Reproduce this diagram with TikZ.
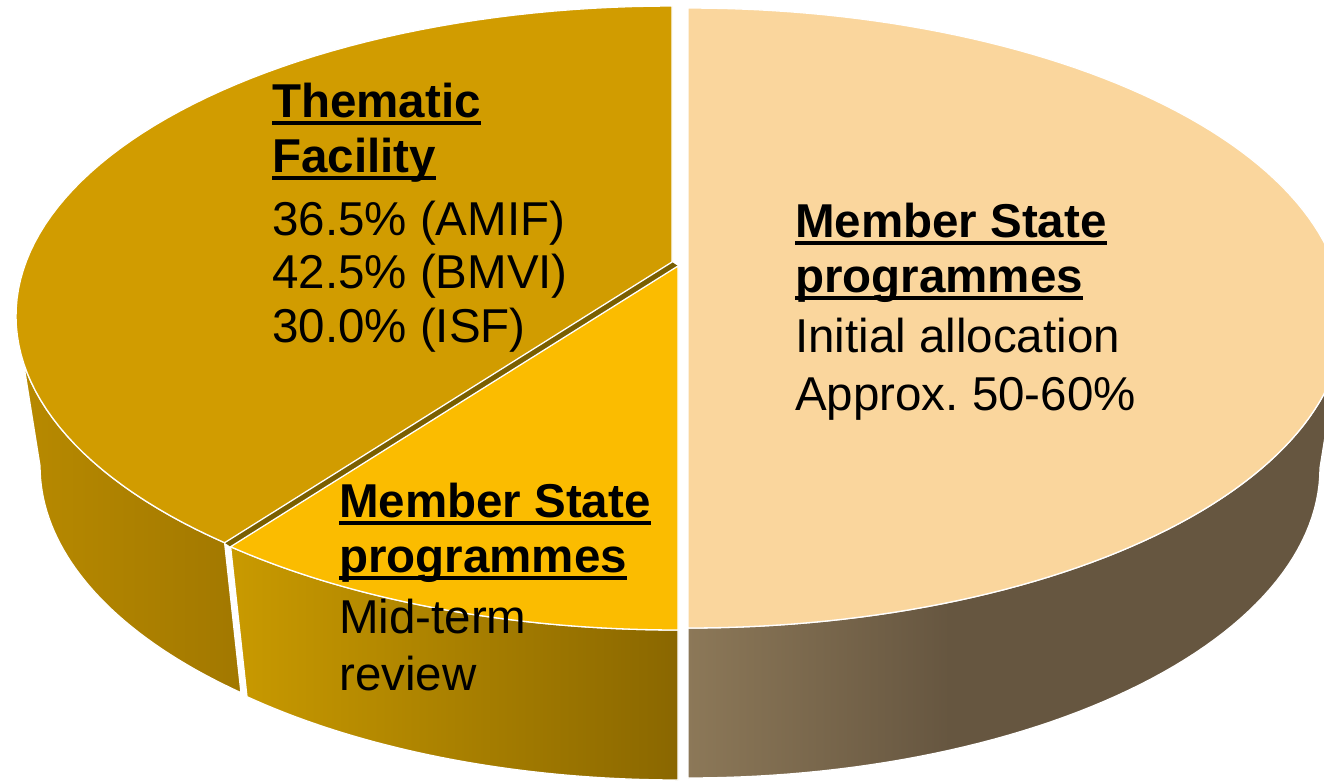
\documentclass[tikz,border=0pt]{standalone}
\usepackage{fontspec}
\setmainfont{Liberation Sans}
\frenchspacing
\definecolor{thtop}{HTML}{D19C00}
\definecolor{thsideA}{HTML}{B88A00}
\definecolor{thsideB}{HTML}{A27800}
\definecolor{ytop}{HTML}{FBBC00}
\definecolor{ysideA}{HTML}{C99A00}
\definecolor{ysideB}{HTML}{8A6700}
\definecolor{ltop}{HTML}{FAD69D}
\definecolor{lsideA}{HTML}{8C7858}
\definecolor{lsideB}{HTML}{665640}
\definecolor{stripecol}{HTML}{7A5F00}
\pgfdeclarehorizontalshading{lsideshade}{100bp}{color(0bp)=(lsideA); color(25bp)=(lsideA); color(45bp)=(lsideB); color(100bp)=(lsideB)}
\newcommand\ulbf[1]{\setbox0=\hbox{#1}\rlap{\rule[-8pt]{\wd0}{4.5pt}}\box0}
\begin{document}
\begin{tikzpicture}[x=1pt,y=-1pt,
  face/.style={draw=white, line width=1.3pt, line join=round},
  lbl/.style={anchor=base west, inner sep=0pt, font=\fontsize{47.5}{57}\selectfont},
  hdr/.style={anchor=base west, inner sep=0pt, font=\fontsize{47.5}{57}\selectfont\bfseries}]
\useasboundingbox (0,0) rectangle (1324,780);
\clip (0,0) rectangle (1324,780);
% ---- Thematic Facility slice
\path[face, left color=thsideA, right color=thsideB]
  plot[domain=180:227, samples=40] ({672+656*cos(\x)},{316-310*sin(\x)})
  -- plot[domain=227:180, samples=40] ({672+632*cos(\x)},{466-310*sin(\x)}) -- cycle;
\fill[stripecol] (672,262) -- ({672+656*cos(227)},{316-310*sin(227)})
  -- ({678+656*cos(227)},{320-310*sin(227)}) -- (678,266) -- cycle;
\path[face, fill=thtop] (672,262)
  -- plot[domain=90:227, samples=80] ({672+656*cos(\x)},{316-310*sin(\x)}) -- cycle;
% ---- Mid-term review slice
\path[face, left color=ysideA, right color=ysideB]
  plot[domain=227:270, samples=40] ({678+656*cos(\x)},{320-310*sin(\x)})
  -- plot[domain=270:227, samples=40] ({678+632*cos(\x)},{470-310*sin(\x)}) -- cycle;
\path[face, fill=ytop] (678,266)
  -- plot[domain=227:270, samples=40] ({678+656*cos(\x)},{320-310*sin(\x)}) -- cycle;
% ---- Initial allocation slice
\path[face, shading=lsideshade]
  plot[domain=-90:0, samples=60] ({688+656*cos(\x)},{318-310*sin(\x)})
  -- plot[domain=0:-90, samples=60] ({688+632*cos(\x)},{468-310*sin(\x)}) -- cycle;
\path[face, fill=ltop]
  plot[domain=-90:90, samples=120] ({688+656*cos(\x)},{318-310*sin(\x)}) -- cycle;
% ---- labels
\node[hdr] (th1) at (272,117) {\ulbf{Thematic}};
\node[hdr] (th2) at (272,172) {\ulbf{Facility}};
\node[lbl] (th3) at (272,235) {36.5\% (AMIF)};
\node[lbl] (th4) at (272,288) {42.5\% (BMVI)};
\node[lbl] (th5) at (272,342) {30.0\% (ISF)};
\node[hdr] (ms1) at (795,237) {\ulbf{Member State}};
\node[hdr] (ms2) at (795,292) {\ulbf{programmes}};
\node[lbl] (ms3) at (795,352) {Initial allocation};
\node[lbl] (ms4) at (795,410) {Approx.\ 50-60\%};
\node[hdr] (mt1) at (339,517) {\ulbf{Member State}};
\node[hdr] (mt2) at (339,572) {\ulbf{programmes}};
\node[lbl] (mt3) at (339,633) {Mid-term};
\node[lbl] (mt4) at (339,690) {review};
\end{tikzpicture}
\end{document}
